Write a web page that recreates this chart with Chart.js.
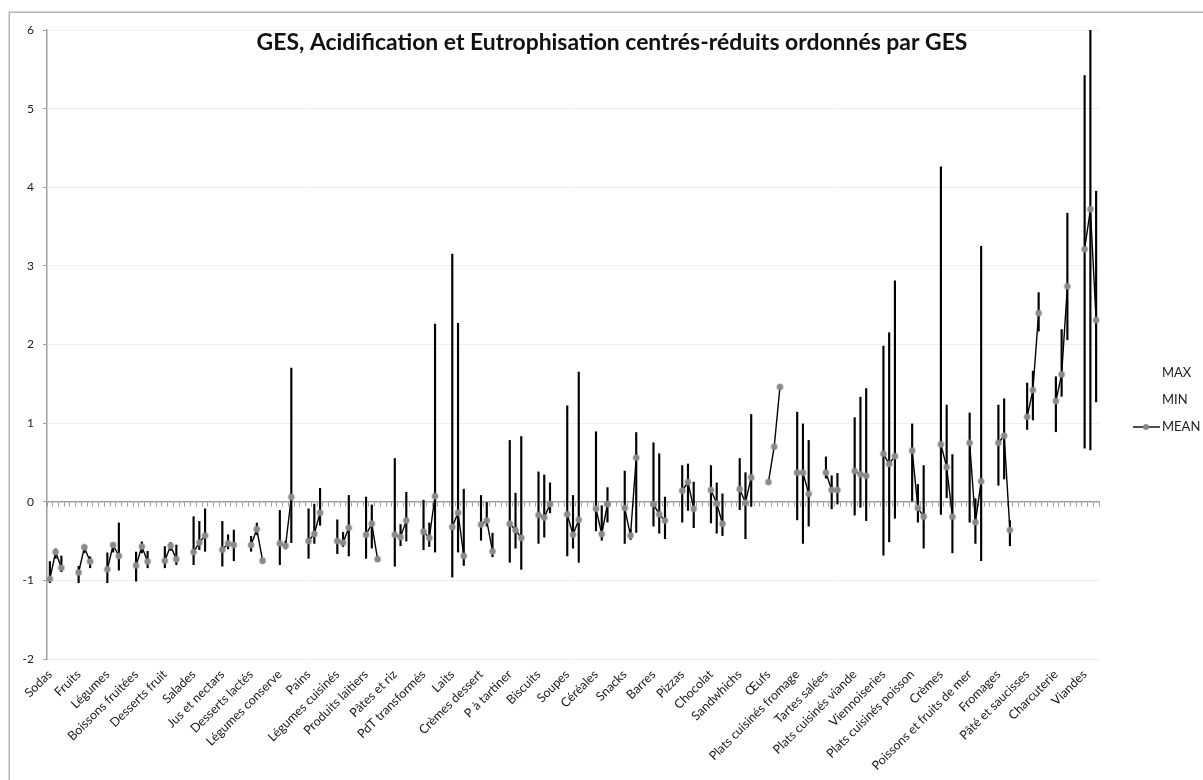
<!DOCTYPE html>
<html>
<head>
<meta charset="utf-8">
<script src="https://cdn.jsdelivr.net/npm/chart.js@4.4.0/dist/chart.umd.min.js"></script>
<style>
  html, body { margin: 0; padding: 0; background: #fff; overflow: hidden; }
  #wrap { position: relative; width: 1203px; height: 780px; }
</style>
</head>
<body>
<div id="wrap"><canvas id="myChart" width="1203" height="780"></canvas></div>
<script>
// categories ordonnées par GES
const categories = ['Sodas', 'Fruits', 'Légumes', 'Boissons fruitées', 'Desserts fruit', 'Salades',
  'Jus et nectars', 'Desserts lactés', 'Légumes conserve', 'Pains', 'Légumes cuisinés',
  'Produits laitiers', 'Pâtes et riz', 'PdT transformés', 'Laits', 'Crèmes dessert',
  'P à tartiner', 'Biscuits', 'Soupes', 'Céréales', 'Snacks', 'Barres', 'Pizzas', 'Chocolat',
  'Sandwhichs', 'Œufs', 'Plats cuisinés fromage', 'Tartes salées', 'Plats cuisinés viande',
  'Viennoiseries', 'Plats cuisinés poisson', 'Crèmes', 'Poissons et fruits de mer', 'Fromages',
  'Pâté et saucisses', 'Charcuterie', 'Viandes'];

// GES
const gesMean = [-0.98, -0.90, -0.86, -0.81, -0.75, -0.64, -0.61, -0.55, -0.53, -0.50, -0.50, -0.42, -0.42,
  -0.38, -0.32, -0.29, -0.28, -0.17, -0.16, -0.09, -0.08, -0.03, 0.14, 0.15, 0.16, 0.25, 0.37, 0.37, 0.39,
  0.61, 0.65, 0.73, 0.75, 0.75, 1.08, 1.28, 3.21];
const gesMax = [-0.76, -0.82, -0.65, -0.64, -0.57, -0.19, -0.25, -0.44, -0.11, -0.09, -0.23, 0.06, 0.55,
  0.02, 3.15, 0.08, 0.78, 0.38, 1.22, 0.89, 0.39, 0.75, 0.46, 0.46, 0.55, 0.25, 1.14, 0.57, 1.07,
  1.98, 0.99, 4.26, 1.13, 1.23, 1.51, 1.59, 5.42];
const gesMin = [-1.03, -1.03, -1.03, -1.01, -0.84, -0.80, -0.82, -0.63, -0.80, -0.72, -0.66, -0.72, -0.82,
  -0.61, -0.96, -0.49, -0.77, -0.53, -0.69, -0.37, -0.53, -0.31, -0.26, -0.27, -0.10, 0.25, -0.23, 0.30, -0.17,
  -0.68, 0.01, -0.16, -0.26, 0.21, 0.92, 0.89, 0.68];

// Acidification
const acidMean = [-0.64, -0.58, -0.55, -0.57, -0.56, -0.52, -0.53, -0.35, -0.56, -0.41, -0.52, -0.28, -0.45,
  -0.46, -0.14, -0.24, -0.36, -0.20, -0.42, -0.41, -0.43, -0.16, 0.25, -0.02, -0.01, 0.70, 0.37, 0.15, 0.35,
  0.48, -0.08, 0.44, -0.26, 0.84, 1.42, 1.62, 3.72];
const acidMax = [-0.60, -0.55, -0.53, -0.51, -0.52, -0.25, -0.42, -0.27, -0.50, -0.03, -0.39, -0.04, -0.29,
  -0.27, 2.27, -0.01, 0.11, 0.34, 0.08, -0.05, -0.35, 0.61, 0.48, 0.24, 0.37, 0.70, 0.99, 0.33, 1.33,
  2.15, 0.22, 1.23, 0.04, 1.31, 1.66, 2.19, 6.40];
const acidMin = [-0.72, -0.65, -0.64, -0.65, -0.62, -0.61, -0.60, -0.42, -0.60, -0.53, -0.57, -0.59, -0.56,
  -0.57, -0.64, -0.31, -0.59, -0.45, -0.59, -0.49, -0.48, -0.40, -0.11, -0.40, -0.47, 0.70, -0.53, -0.09, -0.07,
  -0.51, -0.26, 0.05, -0.53, 0.29, 1.04, 1.34, 0.66];

// Eutrophisation
const eutroMean = [-0.84, -0.76, -0.69, -0.76, -0.73, -0.43, -0.55, -0.75, 0.06, -0.14, -0.33, -0.73, -0.24,
  0.07, -0.69, -0.63, -0.46, -0.03, -0.23, -0.03, 0.56, -0.24, -0.09, -0.28, 0.31, 1.46, 0.10, 0.15, 0.33,
  0.58, -0.19, -0.19, 0.26, -0.36, 2.40, 2.74, 2.31];
const eutroMax = [-0.69, -0.70, -0.27, -0.63, -0.55, -0.09, -0.36, -0.73, 1.70, 0.17, 0.08, -0.70, 0.12,
  2.26, 0.16, -0.40, 0.83, 0.24, 1.65, 0.18, 0.88, 0.06, 0.25, 0.10, 1.11, 1.46, 0.78, 0.36, 1.44,
  2.81, 0.46, 0.60, 3.25, -0.24, 2.66, 3.67, 3.95];
const eutroMin = [-0.89, -0.84, -0.87, -0.84, -0.80, -0.63, -0.75, -0.78, -0.52, -0.30, -0.69, -0.76, -0.50,
  -0.64, -0.81, -0.70, -0.86, -0.14, -0.77, -0.26, -0.39, -0.47, -0.33, -0.43, -0.06, 1.46, -0.31, -0.03, -0.24,
  -0.21, -0.59, -0.65, -0.75, -0.56, 2.17, 2.06, 1.27];

const TITRE = 'GES, Acidification et Eutrophisation centrés-réduits ordonnés par GES';

// construction des emplacements : 3 valeurs puis 2 vides par catégorie
let etiquettes = [];
let moyennes = [];
let intervalles = [];
categories.forEach((cat, k) => {
  const series = [[gesMean, gesMin, gesMax], [acidMean, acidMin, acidMax], [eutroMean, eutroMin, eutroMax]];
  series.forEach((s, j) => {
    etiquettes.push(j === 0 ? cat : '');
    moyennes.push(s[0][k]);
    intervalles.push([s[1][k], s[2][k]]);
  });
  if (k < categories.length - 1) {
    etiquettes.push('', '');
    moyennes.push(null, null);
    intervalles.push(null, null);
  }
});

const gris = '#a0a0a0';
const police = 'Lato';

// cadre gris autour du graphique
const cadre = {
  id: 'cadre',
  beforeDraw(chart) {
    const c = chart.ctx;
    c.save();
    c.strokeStyle = '#b4b4b4';
    c.lineWidth = 1.5;
    c.strokeRect(9.25, 12.25, 1300, 900);
    c.restore();
  }
};

// titre dessiné dans la zone de tracé
const titre = {
  id: 'titre',
  afterDraw(chart) {
    const c = chart.ctx;
    c.save();
    c.font = 'bold 18px ' + police;
    let w = c.measureText(TITRE).width;
    let taille = 18 * 711 / w;
    c.font = 'bold ' + taille.toFixed(2) + 'px ' + police;
    c.fillStyle = '#111';
    c.textAlign = 'center';
    c.textBaseline = 'alphabetic';
    c.fillText(TITRE, 612, 50);
    c.restore();
  }
};

// légende à droite
const legende = {
  id: 'legende',
  afterDraw(chart) {
    const c = chart.ctx;
    c.save();
    c.font = '13px ' + police;
    c.fillStyle = '#222';
    c.textBaseline = 'middle';
    c.textAlign = 'left';
    c.fillText('MAX', 1162, 373);
    c.fillText('MIN', 1162, 400);
    c.fillText('MEAN', 1162, 427);
    c.strokeStyle = '#000';
    c.lineWidth = 1.4;
    c.beginPath();
    c.moveTo(1133, 427);
    c.lineTo(1160, 427);
    c.stroke();
    c.beginPath();
    c.arc(1146, 427, 3, 0, 2 * Math.PI);
    c.fillStyle = '#8a8a8a';
    c.fill();
    c.restore();
  }
};

let ctx = document.getElementById('myChart').getContext('2d');

let miGrafico = new Chart(ctx, {
  data: {
    labels: etiquettes,
    datasets: [
      {
        type: 'line',
        label: 'MEAN',
        data: moyennes,
        borderColor: '#000',
        borderWidth: 1.4,
        pointRadius: 2.9,
        pointBackgroundColor: '#8a8a8a',
        pointBorderColor: 'rgba(140,140,140,0.4)',
        pointBorderWidth: 1.8,
        spanGaps: false,
        order: 0
      },
      {
        type: 'bar',
        label: 'MIN / MAX',
        data: intervalles,
        backgroundColor: '#000',
        barThickness: 1.5,
        order: 1
      }
    ]
  },
  options: {
    responsive: false,
    animation: false,
    layout: { padding: { top: 30, right: 104, left: 0, bottom: 0 } },
    plugins: {
      legend: { display: false },
      tooltip: { enabled: false },
      title: { display: false }
    },
    scales: {
      x: {
        type: 'category',
        offset: true,
        grid: { display: false, drawTicks: false },
        border: { display: false },
        ticks: {
          autoSkip: false,
          minRotation: 45,
          maxRotation: 45,
          padding: 8,
          font: { family: police, size: 12.5 },
          color: '#1a1a1a'
        },
        afterFit: s => { s.height = 121; }
      },
      x2: {
        type: 'category',
        position: { y: 0 },
        offset: true,
        grid: { drawOnChartArea: false, drawTicks: true, tickLength: 4, tickColor: gris, offset: true },
        border: { color: gris, width: 1.5 },
        ticks: { display: false, autoSkip: false }
      },
      y: {
        min: -2,
        max: 6,
        ticks: { stepSize: 1, padding: 9, font: { family: police, size: 12 }, color: '#222' },
        grid: { color: '#efefef', tickColor: gris, tickLength: 4 },
        border: { color: gris, width: 1.5 },
        afterFit: s => { s.width = 47; }
      }
    }
  },
  plugins: [cadre, titre, legende]
});
</script>
</body>
</html>
